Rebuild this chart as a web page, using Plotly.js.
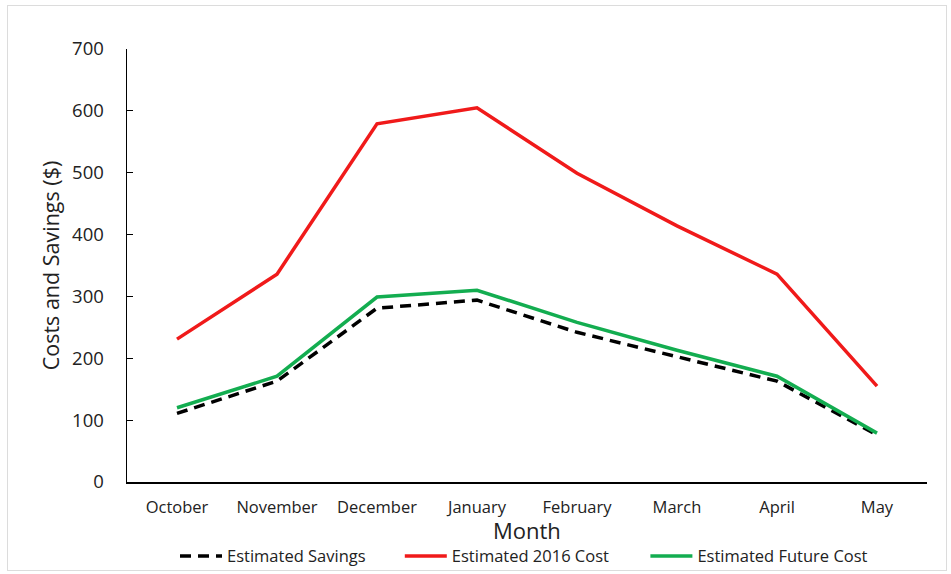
<!DOCTYPE html>
<html>
<head>
<meta charset="utf-8">
<script src="https://cdn.plot.ly/plotly-3.0.1.min.js"></script>
<style>
  html, body { margin: 0; padding: 0; background: #fff; }
  #frame { position: absolute; left: 7px; top: 5px; width: 940px; height: 566px; border: 1px solid #dcdcdc; box-sizing: border-box; pointer-events: none; }
  #chart { position: absolute; left: 0; top: 0; width: 951px; height: 574px; }
</style>
</head>
<body>
<div id="chart"></div>
<div id="frame"></div>
<script>
// Monthly heating costs and savings
const months = ["October", "November", "December", "January", "February", "March", "April", "May"];
const estimatedSavings = [111, 163, 281, 294, 242, 202, 163, 76];
const estimated2016Cost = [231, 336, 579, 605, 499, 414, 336, 155];
const estimatedFutureCost = [120, 171, 299, 310, 258, 213, 171, 79];

const font = "'Open Sans', 'Noto Sans', sans-serif";

const traces = [
  { x: months, y: estimatedSavings, name: "Estimated Savings", type: "scatter", mode: "lines",
    legend: "legend", line: { color: "#000000", width: 3.5, dash: "11px,7px" } },
  { x: months, y: estimated2016Cost, name: "Estimated 2016 Cost", type: "scatter", mode: "lines",
    legend: "legend2", line: { color: "#f01a1a", width: 3.5 } },
  { x: months, y: estimatedFutureCost, name: "Estimated Future Cost", type: "scatter", mode: "lines",
    legend: "legend3", line: { color: "#13ad50", width: 3.5 } }
];

// one legend entry per box, laid out in a row below the axis title
function legendAt(x) {
  return { orientation: "h", x: x, xanchor: "left", yref: "container", y: 0.031, yanchor: "middle",
           itemwidth: 42, font: { size: 16.5, color: "#222222" }, bgcolor: "rgba(0,0,0,0)" };
}

const layout = {
  width: 951, height: 574,
  margin: { l: 127, r: 24, t: 49, b: 92, autoexpand: false },
  paper_bgcolor: "#ffffff", plot_bgcolor: "#ffffff",
  font: { family: font, color: "#333333" },
  showlegend: true,
  legend: legendAt(0.06),
  legend2: legendAt(0.341),
  legend3: legendAt(0.648),
  xaxis: {
    type: "category", showline: true, linecolor: "#000000", linewidth: 1.5,
    showgrid: false, zeroline: false, ticks: "", range: [-0.5, 7.5],
    ticklabelstandoff: 10,
    tickfont: { size: 16.5, color: "#222222" }
  },
  yaxis: {
    range: [0, 700], dtick: 100, showline: true, linecolor: "#000000", linewidth: 1.5,
    showgrid: false, zeroline: false, ticks: "inside", ticklen: 6, tickcolor: "#000000",
    ticklabelstandoff: 18,
    tickfont: { size: 18.5, color: "#222222" },
    title: { text: "Costs and Savings ($)", font: { size: 21.5, color: "#222222" }, standoff: 6 }
  },
  // x-axis title, placed below the month labels
  annotations: [{
    text: "Month", xref: "paper", yref: "paper", x: 0.5, y: -0.112,
    xanchor: "center", yanchor: "middle", showarrow: false,
    font: { size: 22, color: "#222222" }
  }]
};

Plotly.newPlot("chart", traces, layout, { displayModeBar: false, staticPlot: true });
</script>
</body>
</html>
